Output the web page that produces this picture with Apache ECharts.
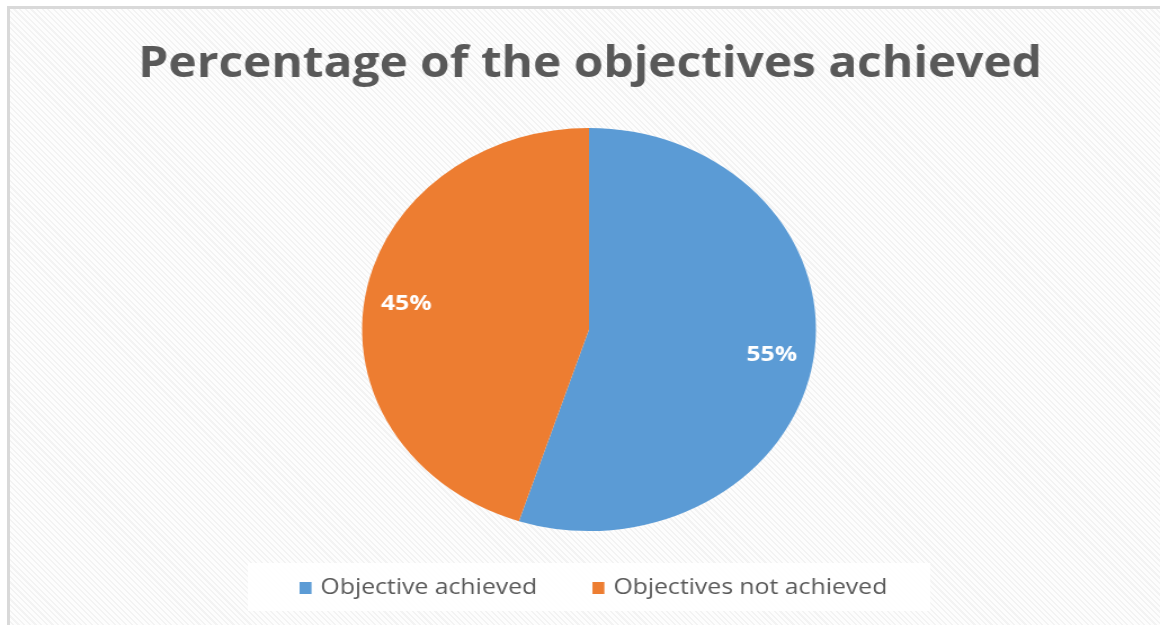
<!DOCTYPE html>
<html>
<head>
<meta charset="utf-8">
<script src="https://cdn.jsdelivr.net/npm/echarts@6/dist/echarts.min.js"></script>
<style>
html,body{margin:0;padding:0;width:1160px;height:625px;overflow:hidden;background:#fff;}
#frame{position:absolute;left:7px;top:6px;width:1160px;height:625px;border-left:3px solid #d9d9d9;border-top:3px solid #d9d9d9;
background:repeating-linear-gradient(45deg,#f3f3f3 0px,#f3f3f3 1.5px,#fdfdfd 1.5px,#fdfdfd 4px);}
#main{position:absolute;left:0;top:0;width:1030px;height:625px;transform:scaleX(1.1262);transform-origin:0 0;}
</style>
</head>
<body>
<div id="frame"></div>
<div id="main"></div>
<script>
const titleText = 'Percentage of the objectives achieved';
const categories = ['Objective achieved', 'Objectives not achieved'];
const values = [55, 45];
const colors = ['#5b9bd5', '#ed7d31'];

const data = categories.map((c, i) => ({ name: c, value: values[i], itemStyle: { color: colors[i] } }));
const labelData = categories.map((c, i) => ({ name: c, value: values[i], itemStyle: { color: 'rgba(0,0,0,0)' } }));

const chart = echarts.init(document.getElementById('main'), null, { renderer: 'canvas' });
chart.setOption({
  backgroundColor: 'transparent',
  animation: false,
  title: {
    text: titleText,
    left: 519, top: 38, textAlign: 'center',
    textStyle: { fontFamily: 'Open Sans', fontWeight: 'bold', fontSize: 42.5, color: '#595959' }
  },
  graphic: [{
    type: 'rect', left: 220, top: 563, shape: { width: 606, height: 48 },
    style: { fill: '#ffffff', opacity: 0.9 }, z: -1
  }],
  legend: {
    data: categories,
    left: 261, top: 572,
    icon: 'rect', itemWidth: 10.6, itemHeight: 12, itemGap: 49,
    textStyle: { fontFamily: 'Open Sans', fontSize: 22, color: '#595959', padding: [0, 0, 0, 3] }
  },
  series: [{
    type: 'pie',
    center: [523, 329.5],
    radius: [0, 201.5],
    startAngle: 90,
    clockwise: true,
    label: { show: false },
    labelLine: { show: false },
    data: data
  }, {
    type: 'pie',
    center: [523, 329.5],
    radius: [121, 201.5],
    startAngle: 90,
    clockwise: true,
    silent: true,
    legendHoverLink: false,
    label: {
      show: true, position: 'inside', formatter: '{d}%',
      fontFamily: 'Open Sans', fontWeight: 'bold', fontSize: 22, color: '#ffffff'
    },
    labelLine: { show: false },
    data: labelData
  }]
});
</script>
</body>
</html>
